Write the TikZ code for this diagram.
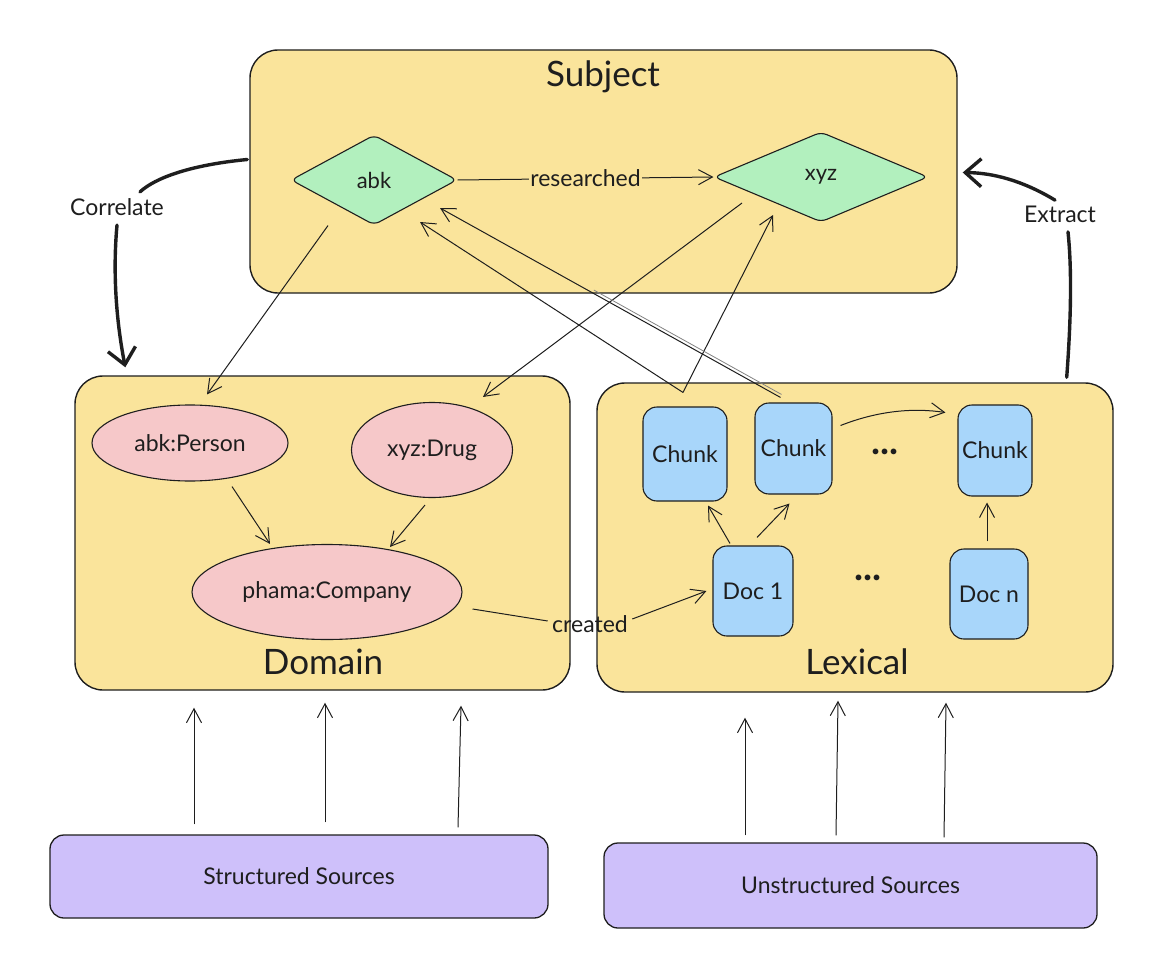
\documentclass[tikz,border=0pt]{standalone}
\usepackage{fontspec}
\setmainfont{Lato}
\usetikzlibrary{shapes.geometric,arrows.meta,calc}
\definecolor{ybox}{RGB}{250,228,155}
\definecolor{gdia}{RGB}{178,240,190}
\definecolor{pell}{RGB}{246,200,201}
\definecolor{bbox}{RGB}{168,214,250}
\definecolor{pbox}{RGB}{206,192,250}
\definecolor{ink}{RGB}{30,30,30}
\begin{document}
\begin{tikzpicture}[x=1pt,y=-1pt,
  every node/.style={font=\fontsize{23}{27}\selectfont, text=ink},
  group/.style={draw=ink, line width=1.4pt, fill=ybox, rounded corners=28pt, inner sep=0},
  dia/.style={diamond, draw=ink, line width=1.1pt, fill=gdia, rounded corners=6pt, inner sep=0},
  ent/.style={ellipse, draw=ink, line width=1.1pt, fill=pell, inner sep=0},
  cbox/.style={draw=ink, line width=1.1pt, fill=bbox, rounded corners=14pt, inner sep=0},
  src/.style={draw=ink, line width=1.3pt, fill=pbox, rounded corners=14pt, inner sep=0},
  arr/.style={draw=ink, line width=1pt, -{Straight Barb[length=14pt,width=15pt]}},
  thickline/.style={draw=ink, line width=3.4pt, line cap=round},
  bigarr/.style={thickline, -{Straight Barb[length=16pt,width=28pt]}},
  title/.style={font=\fontsize{35}{40}\selectfont},
  small/.style={font=\fontsize{22}{26}\selectfont},
  dots/.style={font=\fontsize{38}{42}\selectfont\bfseries}
]
\fill[white] (0,0) rectangle (1170,963);
\useasboundingbox (0,0) rectangle (1170,963);

% Subject
\node[group, minimum width=707, minimum height=243] (subj) at (603.5,171.5) {};
\node[title] (subjt) at (603,77) {Subject};
\node[dia, minimum width=166, minimum height=90, small] (abk) at (374,180) {abk};
\node[dia, minimum width=214, minimum height=90, small] (xyz) at (821,177) {xyz};
\draw[arr] (abk.east) -- node[fill=ybox, inner sep=1pt] (res) {researched} (xyz.west);

% Domain
\node[group, minimum width=495, minimum height=314] (dom) at (322.5,533) {};
\node[title] (domt) at (323,662) {Domain};
\node[ent, minimum width=196, minimum height=76] (abkp) at (190,443) {abk:Person};
\node[ent, minimum width=161, minimum height=95] (xyzd) at (432,450) {xyz:Drug};
\node[ent, minimum width=270, minimum height=95] (pha) at (327,592) {phama:Company};

% Lexical
\node[group, minimum width=516, minimum height=309] (lex) at (855,537.5) {};
\node[title] (lext) at (857,662) {Lexical};
\node[cbox, minimum width=84, minimum height=94] (c1) at (685,454) {Chunk};
\node[cbox, minimum width=77, minimum height=91] (c2) at (793.5,448.5) {Chunk};
\node[cbox, minimum width=74, minimum height=91] (c3) at (995,450.5) {Chunk};
\node[cbox, minimum width=80, minimum height=90] (doc1) at (753,591) {Doc 1};
\node[cbox, minimum width=78, minimum height=90] (docn) at (989,594) {Doc n};
\node[dots] (dt1) at (885,452) {...};
\node[dots] (dt2) at (868,578) {...};

% Sources
\node[src, minimum width=498, minimum height=83] (ss) at (299,876.5) {Structured Sources};
\node[src, minimum width=493, minimum height=85] (us) at (850.5,885.5) {Unstructured Sources};

% source arrows
\draw[arr] ([shift={(-105,-10)}]ss.north) -- ([shift={(-128.5,17)}]dom.south);
\draw[arr] ([shift={(26,-12)}]ss.north) -- ([shift={(2.5,12)}]dom.south);
\draw[arr] ([shift={(159,-7)}]ss.north) -- ([shift={(138.5,15)}]dom.south);
\draw[arr] ([shift={(-105.5,-7)}]us.north) -- ([shift={(-110,25)}]lex.south);
\draw[arr] ([shift={(-14.5,-7)}]us.north) -- ([shift={(-17,8)}]lex.south);
\draw[arr] ([shift={(93.5,-5)}]us.north) -- ([shift={(91,10)}]lex.south);

% Correlate
\node (corr) at (117,207) {Correlate};
\draw[thickline] ([shift={(-2,-12)}]subj.west) .. controls (190,165) and (155,178) .. ([shift={(23,-3)}]corr.north);
\draw[bigarr] ([shift={(0,6)}]corr.south) .. controls (112,280) and (118,330) .. ([shift={(51,-8)}]dom.north west);

% Extract
\node (ext) at (1060,214) {Extract};
\draw[thickline] ([shift={(-47,-5)}]lex.north east) .. controls (1071,320) and (1072,270) .. ([shift={(8,6)}]ext.south);
\draw[bigarr] ([shift={(-5,-2)}]ext.north) .. controls (1030,185) and (1000,173) .. ([shift={(5,1)}]subj.east);

% Subject to Domain
\draw[arr] ([shift={(-46,0)}]abk.south) -- ([shift={(17,-10)}]abkp.north);
\draw[arr] ([shift={(-79,26)}]xyz.center) -- ([shift={(51,-5)}]xyzd.north);

% Lexical to Subject
\draw[arr] ([shift={(-2,-14)}]c1.north) -- ([shift={(46,42)}]abk.center);
\draw[arr] ([shift={(-2,-14)}]c1.north) -- ([shift={(-48,38)}]xyz.center);
\draw[arr] ([shift={(-13,-5)}]c2.north) -- ([shift={(66,28)}]abk.center);
\draw[ink!55, line width=0.8pt, shorten >=175pt] ([shift={(-12,-8)}]c2.north) -- ([shift={(67,25)}]abk.center);

% Domain internal
\draw[arr] ([shift={(42,5)}]abkp.south) -- ([shift={(-57,0)}]pha.north);
\draw[arr] ([shift={(-7,7)}]xyzd.south) -- ([shift={(63,3)}]pha.north);

% created
\node (cr) at (590,624) {created};
\draw[ink, line width=1pt] ([shift={(10,17)}]pha.east) -- ([shift={(-1,-3)}]cr.west);
\draw[arr] ([shift={(1,-5)}]cr.east) -- ([shift={(-6,0)}]doc1.west);

% Lexical internal
\draw[arr] ([shift={(-23,-2)}]doc1.north) -- ([shift={(23,4)}]c1.south);
\draw[arr] ([shift={(4,-8)}]doc1.north) -- ([shift={(-4,9)}]c2.south);
\draw[arr] ([shift={(8,-23)}]c2.east) .. controls (880,410) and (915,408) .. ([shift={(-12,-38)}]c3.west);
\draw[arr] ([shift={(-2,-7)}]docn.north) -- ([shift={(-8,6)}]c3.south);
\end{tikzpicture}
\end{document}
